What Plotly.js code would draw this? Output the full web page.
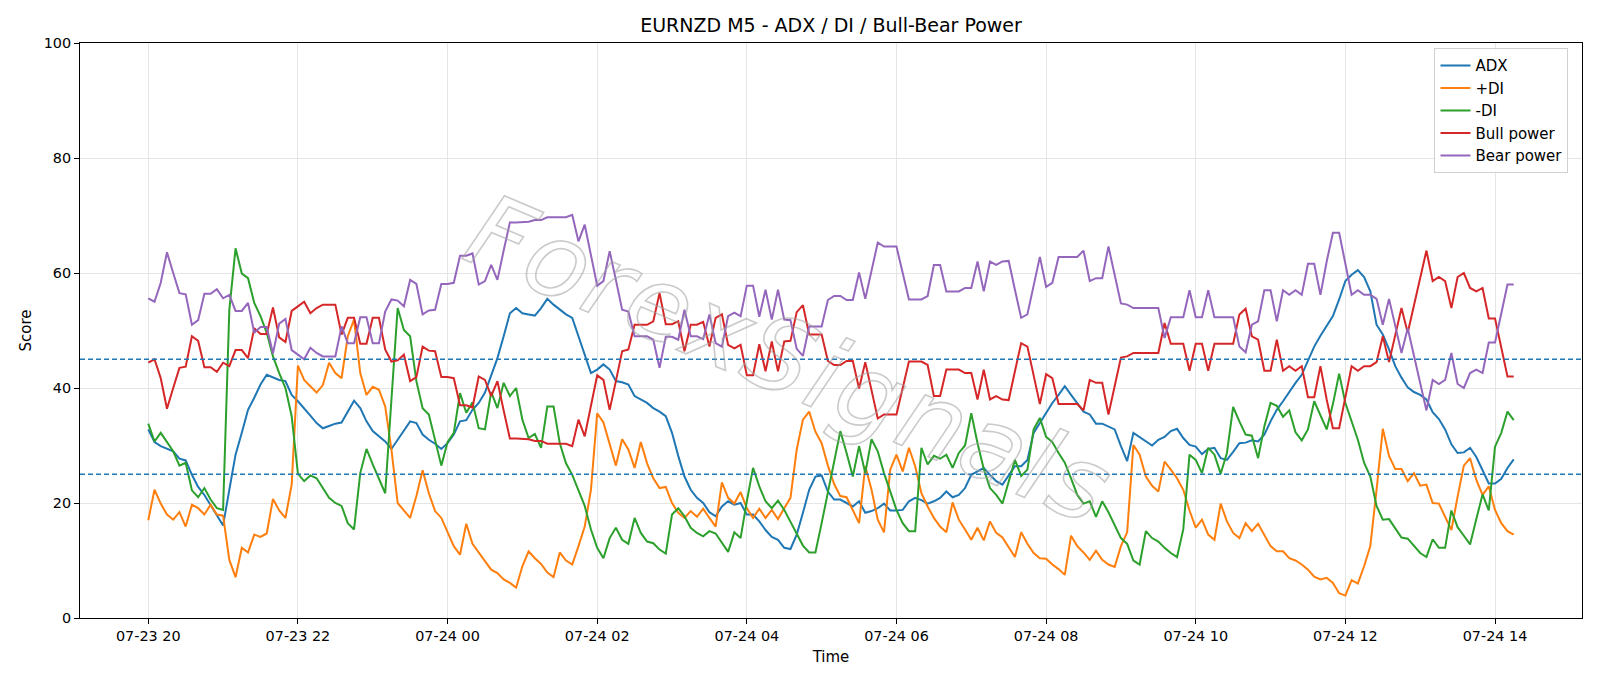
<!DOCTYPE html>
<html>
<head>
<meta charset="utf-8">
<script src="https://cdn.plot.ly/plotly-3.0.1.min.js"></script>
<style>
html,body{margin:0;padding:0;background:#ffffff;}
#chart{width:1600px;height:686px;}
</style>
</head>
<body>
<div id="chart"></div>
<script>
// ---- data (one value per 5-minute bar, starting 07-23 20:00) ----
const startStamp = [2025, 6, 23, 20, 0]; // year, month index, day, hour, minute
const barMinutes = 5;

const adx = [
  32.8, 30.6, 29.9, 29.4, 29.0, 27.7, 27.4, 24.9, 22.8, 21.4,
  19.7, 17.8, 16.1, 22.3, 28.4, 32.2, 36.2, 38.3, 40.6, 42.3,
  41.9, 41.4, 41.2, 38.8, 37.7, 36.5, 35.2, 33.9, 33.0, 33.4,
  33.8, 34.0, 35.9, 37.8, 36.5, 34.2, 32.5, 31.6, 30.7, 29.4,
  31.0, 32.8, 34.2, 33.9, 31.9, 31.0, 30.3, 29.4, 30.4, 31.9,
  34.2, 34.4, 36.2, 37.4, 39.2, 42.2, 45.2, 49.0, 53.0, 53.9,
  53.0, 52.8, 52.6, 53.9, 55.5, 54.5, 53.6, 52.8, 52.2, 49.0,
  45.8, 42.6, 43.2, 44.1, 43.2, 41.2, 41.0, 40.6, 38.6, 38.0,
  37.4, 36.5, 35.9, 35.1, 32.2, 28.2, 24.6, 22.3, 20.9, 20.0,
  18.4, 17.7, 19.4, 20.3, 19.7, 20.0, 18.0, 18.0, 16.8, 15.3,
  14.1, 13.6, 12.2, 12.0, 14.5, 18.3, 22.3, 24.6, 24.8, 22.0,
  20.6, 20.6, 20.0, 19.4, 20.3, 18.3, 18.6, 19.1, 19.9, 18.7,
  18.7, 18.8, 20.3, 20.9, 20.5, 19.9, 20.3, 20.9, 22.0, 21.0,
  21.4, 22.6, 24.9, 25.5, 26.1, 24.9, 23.8, 23.2, 24.7, 26.4,
  26.4, 27.5, 32.2, 33.9, 35.7, 37.4, 38.8, 40.3, 38.8, 37.4,
  35.9, 35.4, 33.8, 33.8, 33.3, 32.8, 29.9, 27.3, 32.2, 31.5,
  30.7, 30.0, 31.0, 31.5, 32.5, 32.9, 31.3, 30.1, 29.8, 28.5,
  29.4, 29.6, 27.8, 27.5, 28.9, 30.4, 30.5, 30.9, 30.7, 31.9,
  34.2, 36.2, 37.7, 39.4, 40.9, 42.3, 44.6, 47.2, 49.1, 50.7,
  52.5, 55.4, 58.6, 59.7, 60.5, 59.3, 56.8, 51.0, 49.3, 46.7,
  43.8, 41.8, 40.1, 39.3, 38.8, 38.0, 35.8, 34.6, 32.8, 30.2,
  28.7, 28.8, 29.6, 28.0, 25.6, 23.4, 23.4, 24.2, 26.1, 27.6
];

const plusDI = [
  17.0, 22.3, 19.9, 18.0, 17.1, 18.4, 15.9, 19.7, 19.1, 18.0,
  19.7, 18.0, 17.8, 10.1, 7.1, 12.2, 11.4, 14.5, 14.1, 14.7,
  20.7, 18.7, 17.4, 23.2, 43.9, 41.4, 40.3, 39.2, 40.5, 44.4,
  42.6, 41.7, 49.0, 51.9, 42.6, 38.8, 40.2, 39.7, 36.8, 29.3,
  20.0, 18.6, 17.4, 21.2, 25.7, 21.7, 18.6, 17.4, 14.8, 12.5,
  11.0, 16.4, 12.9, 11.3, 9.9, 8.4, 7.8, 6.7, 6.1, 5.3,
  9.0, 11.6, 10.4, 9.4, 7.9, 7.1, 11.4, 10.0, 9.3, 12.5,
  15.9, 22.3, 35.6, 34.0, 30.4, 26.5, 31.1, 29.3, 26.1, 30.6,
  26.9, 24.3, 22.6, 22.8, 20.0, 18.3, 17.4, 18.6, 17.6, 19.0,
  17.4, 15.9, 23.6, 20.9, 19.9, 21.9, 19.1, 17.4, 19.0, 17.4,
  18.8, 17.2, 19.1, 20.9, 29.3, 34.5, 35.9, 32.4, 30.4, 26.5,
  23.3, 21.2, 21.0, 18.7, 16.5, 26.4, 22.3, 17.1, 14.9, 25.8,
  28.4, 25.5, 29.6, 26.4, 21.7, 19.4, 17.4, 15.9, 14.9, 20.1,
  17.1, 15.4, 13.6, 15.7, 13.5, 16.8, 14.8, 14.0, 12.2, 10.6,
  14.9, 12.9, 11.3, 10.4, 10.3, 9.3, 8.5, 7.5, 14.3, 12.5,
  11.4, 10.1, 11.7, 10.1, 9.3, 8.9, 12.5, 14.9, 30.1, 28.4,
  24.6, 23.0, 22.0, 27.2, 25.8, 24.3, 22.3, 18.7, 15.7, 17.1,
  14.5, 13.6, 19.9, 16.8, 14.8, 13.9, 16.5, 15.1, 16.4, 14.5,
  12.5, 11.6, 11.6, 10.4, 10.0, 9.3, 8.4, 7.2, 6.7, 7.0,
  6.1, 4.3, 3.9, 6.6, 6.0, 9.0, 12.5, 22.3, 32.9, 28.2,
  25.9, 25.9, 23.8, 25.2, 23.0, 23.2, 20.0, 19.9, 17.7, 15.3,
  21.1, 26.5, 27.8, 24.0, 21.4, 22.9, 18.8, 16.5, 15.1, 14.5
];

const minusDI = [
  33.8, 30.7, 32.2, 30.6, 29.0, 26.5, 27.0, 22.2, 21.0, 22.6,
  20.6, 19.1, 18.8, 53.6, 64.3, 59.9, 59.1, 54.8, 52.5, 49.6,
  45.5, 42.6, 40.0, 35.1, 25.1, 23.8, 24.8, 24.3, 22.6, 20.9,
  20.0, 19.5, 16.5, 15.4, 25.2, 29.4, 26.7, 24.1, 21.7, 38.0,
  53.9, 50.1, 49.0, 41.2, 36.5, 35.4, 31.0, 26.5, 30.6, 32.2,
  39.1, 35.7, 37.5, 33.0, 32.8, 39.3, 36.5, 40.9, 38.6, 40.0,
  34.5, 31.3, 32.0, 29.6, 36.8, 36.8, 30.4, 26.9, 24.9, 22.3,
  19.5, 15.4, 12.2, 10.4, 13.9, 15.7, 13.6, 12.9, 17.4, 14.8,
  13.3, 13.0, 11.9, 11.2, 18.0, 19.1, 17.7, 15.7, 14.8, 14.2,
  15.1, 14.7, 13.0, 11.5, 14.9, 13.9, 20.3, 26.1, 22.9, 20.3,
  19.1, 20.4, 18.8, 16.8, 14.8, 12.6, 11.4, 11.4, 16.5, 22.0,
  27.5, 32.5, 28.7, 24.6, 29.9, 25.2, 31.1, 29.0, 25.2, 22.0,
  18.8, 16.5, 15.1, 15.1, 29.6, 26.7, 28.2, 27.7, 28.4, 26.1,
  28.7, 30.0, 35.6, 30.4, 25.9, 22.6, 21.4, 19.9, 23.5, 27.5,
  24.7, 25.8, 32.8, 34.8, 31.5, 30.6, 28.7, 27.0, 24.3, 21.4,
  19.9, 20.3, 17.6, 20.3, 18.4, 16.2, 13.9, 12.9, 10.0, 9.3,
  15.1, 13.9, 13.3, 12.2, 11.3, 10.6, 15.4, 28.4, 27.5, 25.2,
  29.6, 28.4, 25.1, 28.7, 36.7, 34.2, 31.9, 31.7, 27.8, 33.3,
  37.4, 36.9, 35.0, 36.1, 32.3, 30.9, 32.8, 37.7, 35.1, 32.8,
  37.2, 42.5, 37.4, 34.2, 31.0, 27.0, 24.6, 19.5, 17.1, 17.2,
  15.6, 14.0, 13.8, 12.5, 11.3, 10.6, 13.7, 12.2, 12.2, 18.7,
  15.8, 14.3, 12.8, 17.2, 21.5, 18.7, 29.8, 32.2, 35.9, 34.4
];

const bullPower = [
  44.4, 45.0, 41.7, 36.4, 40.0, 43.5, 43.7, 49.0, 48.2, 43.6,
  43.6, 42.8, 44.4, 43.8, 46.6, 46.6, 45.2, 50.4, 49.4, 49.4,
  54.0, 48.8, 48.0, 53.4, 54.2, 55.0, 53.0, 53.9, 54.5, 54.5,
  54.5, 49.3, 52.2, 52.2, 47.7, 47.7, 52.2, 52.2, 46.7, 44.6,
  44.8, 45.8, 41.2, 41.9, 47.2, 46.5, 46.4, 41.9, 41.9, 41.7,
  37.0, 37.0, 36.6, 42.0, 41.4, 38.6, 41.2, 36.1, 31.2, 31.2,
  31.2, 31.1, 30.8, 30.8, 30.3, 30.3, 30.3, 30.3, 29.9, 34.5,
  31.6, 36.8, 42.2, 41.4, 36.2, 41.2, 46.4, 46.7, 51.0, 51.0,
  51.0, 51.6, 56.5, 51.1, 51.1, 51.6, 46.4, 51.0, 51.0, 51.5,
  47.2, 52.2, 52.8, 47.5, 46.9, 47.5, 42.2, 42.2, 47.6, 42.9,
  48.1, 42.9, 48.1, 48.2, 53.2, 54.4, 49.3, 49.3, 49.3, 44.7,
  44.0, 44.0, 44.7, 44.7, 39.9, 44.5, 39.6, 34.7, 35.4, 35.4,
  35.4, 40.0, 44.6, 44.6, 44.6, 44.0, 38.6, 38.6, 43.2, 43.2,
  43.2, 42.6, 42.6, 38.0, 43.2, 38.0, 38.6, 38.0, 37.9, 42.9,
  47.8, 47.2, 42.2, 37.2, 42.4, 41.7, 37.2, 37.2, 37.2, 37.2,
  36.1, 41.4, 40.9, 40.9, 35.4, 40.3, 45.3, 45.5, 46.1, 46.1,
  46.1, 46.1, 46.1, 51.3, 47.7, 47.7, 47.7, 43.0, 47.7, 47.7,
  43.0, 47.7, 47.7, 47.7, 47.7, 52.8, 53.8, 49.0, 48.4, 43.0,
  43.0, 48.4, 43.0, 43.8, 43.0, 43.8, 38.4, 38.4, 43.8, 38.0,
  33.0, 33.0, 38.4, 43.8, 43.0, 43.8, 43.8, 44.5, 49.0, 44.5,
  49.2, 53.9, 49.6, 54.4, 59.0, 63.9, 58.6, 59.3, 58.6, 53.9,
  59.3, 60.0, 57.4, 56.8, 57.4, 52.1, 52.1, 47.0, 42.0, 42.0
];

const bearPower = [
  55.6, 55.0, 58.3, 63.6, 60.0, 56.5, 56.3, 51.0, 51.8, 56.4,
  56.4, 57.2, 55.6, 56.2, 53.4, 53.4, 54.8, 49.6, 50.6, 50.6,
  46.0, 51.2, 52.0, 46.6, 45.8, 45.0, 47.0, 46.1, 45.5, 45.5,
  45.5, 50.7, 47.8, 47.8, 52.3, 52.3, 47.8, 47.8, 53.3, 55.4,
  55.2, 54.2, 58.8, 58.1, 52.8, 53.5, 53.6, 58.1, 58.1, 58.3,
  63.0, 63.0, 63.4, 58.0, 58.6, 61.4, 58.8, 63.9, 68.8, 68.8,
  68.8, 68.9, 69.2, 69.2, 69.7, 69.7, 69.7, 69.7, 70.1, 65.5,
  68.4, 63.2, 57.8, 58.6, 63.8, 58.8, 53.6, 53.3, 49.0, 49.0,
  49.0, 48.4, 43.5, 48.9, 48.9, 48.4, 53.6, 49.0, 49.0, 48.5,
  52.8, 47.8, 47.2, 52.5, 53.1, 52.5, 57.8, 57.8, 52.4, 57.1,
  51.9, 57.1, 51.9, 51.8, 46.8, 45.6, 50.7, 50.7, 50.7, 55.3,
  56.0, 56.0, 55.3, 55.3, 60.1, 55.5, 60.4, 65.3, 64.6, 64.6,
  64.6, 60.0, 55.4, 55.4, 55.4, 56.0, 61.4, 61.4, 56.8, 56.8,
  56.8, 57.4, 57.4, 62.0, 56.8, 62.0, 61.4, 62.0, 62.1, 57.1,
  52.2, 52.8, 57.8, 62.8, 57.6, 58.3, 62.8, 62.8, 62.8, 62.8,
  63.9, 58.6, 59.1, 59.1, 64.6, 59.7, 54.7, 54.5, 53.9, 53.9,
  53.9, 53.9, 53.9, 48.7, 52.3, 52.3, 52.3, 57.0, 52.3, 52.3,
  57.0, 52.3, 52.3, 52.3, 52.3, 47.2, 46.2, 51.0, 51.6, 57.0,
  57.0, 51.6, 57.0, 56.2, 57.0, 56.2, 61.6, 61.6, 56.2, 62.0,
  67.0, 67.0, 61.6, 56.2, 57.0, 56.2, 56.2, 55.5, 51.0, 55.5,
  50.8, 46.1, 50.4, 45.6, 41.0, 36.1, 41.4, 40.7, 41.4, 46.1,
  40.7, 40.0, 42.6, 43.2, 42.6, 47.9, 47.9, 53.0, 58.0, 58.0
];

const thresholdLevels = [25, 45];
const seriesNames = ['ADX', '+DI', '-DI', 'Bull power', 'Bear power'];
const chartTitle = 'EURNZD M5 - ADX / DI / Bull-Bear Power';
const watermarkText = 'ForexSignals';

// ---- timestamps for each bar ----
function pad(n){ return (n < 10 ? '0' : '') + n; }
function stamp(ms){
  const d = new Date(ms);
  return d.getUTCFullYear() + '-' + pad(d.getUTCMonth()+1) + '-' + pad(d.getUTCDate()) +
         ' ' + pad(d.getUTCHours()) + ':' + pad(d.getUTCMinutes()) + ':' + pad(d.getUTCSeconds());
}
const t0 = Date.UTC(startStamp[0], startStamp[1], startStamp[2], startStamp[3], startStamp[4]);
const times = adx.map((_, k) => stamp(t0 + k * barMinutes * 60000));
const spanMs = (adx.length - 1) * barMinutes * 60000;
const xRange = [stamp(t0 - 0.05 * spanMs), stamp(t0 + spanMs + 0.05 * spanMs)];

const colors = ['#1f77b4', '#ff7f0e', '#2ca02c', '#d62728', '#9467bd'];
const allSeries = [adx, plusDI, minusDI, bullPower, bearPower];

const traces = allSeries.map((vals, k) => ({
  type: 'scatter',
  mode: 'lines',
  x: times,
  y: vals,
  name: seriesNames[k],
  line: {color: colors[k], width: 2}
}));

const font = 'DejaVu Sans, Liberation Sans, sans-serif';

const layout = {
  width: 1600,
  height: 686,
  paper_bgcolor: '#ffffff',
  plot_bgcolor: '#ffffff',
  margin: {l: 80, r: 18, t: 43, b: 68, pad: 0},
  font: {family: font, size: 14.4, color: '#000000'},
  title: {
    text: chartTitle,
    font: {family: font, size: 19, color: '#000000'},
    xref: 'paper', x: 0.5, xanchor: 'center',
    yref: 'container', y: 1 - 25.5 / 686, yanchor: 'middle'
  },
  showlegend: true,
  legend: {
    x: 0.991, xanchor: 'right',
    y: 0.991, yanchor: 'top',
    bgcolor: 'rgba(255,255,255,0.85)',
    bordercolor: '#d0d0d0',
    borderwidth: 1,
    font: {family: font, size: 15, color: '#000000'},
    tracegroupgap: 0
  },
  xaxis: {
    type: 'date',
    range: xRange,
    tickformat: '%m-%d %H',
    tick0: stamp(t0),
    dtick: 2 * 3600000,
    ticks: 'outside',
    ticklen: 5,
    tickwidth: 1,
    tickcolor: '#000000',
    tickfont: {family: font, size: 14.4, color: '#000000'},
    showgrid: true,
    gridcolor: '#e5e5e5',
    gridwidth: 1,
    showline: true,
    linecolor: '#000000',
    linewidth: 1,
    mirror: true,
    zeroline: false,
    title: {text: 'Time', font: {family: font, size: 15, color: '#000000'}, standoff: 8}
  },
  yaxis: {
    range: [0, 100],
    tick0: 0,
    dtick: 20,
    ticks: 'outside',
    ticklen: 5,
    tickwidth: 1,
    tickcolor: '#000000',
    tickfont: {family: font, size: 14.4, color: '#000000'},
    showgrid: true,
    gridcolor: '#e5e5e5',
    gridwidth: 1,
    showline: true,
    linecolor: '#000000',
    linewidth: 1,
    mirror: true,
    zeroline: false,
    title: {text: 'Score', font: {family: font, size: 15, color: '#000000'}, standoff: 8}
  },
  shapes: thresholdLevels.map(v => ({
    type: 'line', xref: 'paper', x0: 0, x1: 1, yref: 'y', y0: v, y1: v,
    line: {color: '#1f77b4', width: 1.4, dash: '5px,3px'}, layer: 'above'
  })),
  annotations: [{
    text: watermarkText,
    xref: 'paper', yref: 'paper',
    x: 0.473, y: 0.45,
    showarrow: false,
    textangle: 23,
    font: {family: 'DejaVu Sans, sans-serif', size: 102, color: 'rgba(0,0,0,0)', style: 'italic'}
  }]
};

Plotly.newPlot('chart', traces, layout, {displayModeBar: false, staticPlot: true}).then(() => {
  document.querySelectorAll('.annotation-text').forEach(el => {
    el.style.fill = 'rgba(0,0,0,0)';
    el.style.stroke = 'rgba(160,160,160,0.55)';
    el.style.strokeWidth = '1.6px';
    el.style.letterSpacing = '3px';
  });
});
</script>
</body>
</html>
